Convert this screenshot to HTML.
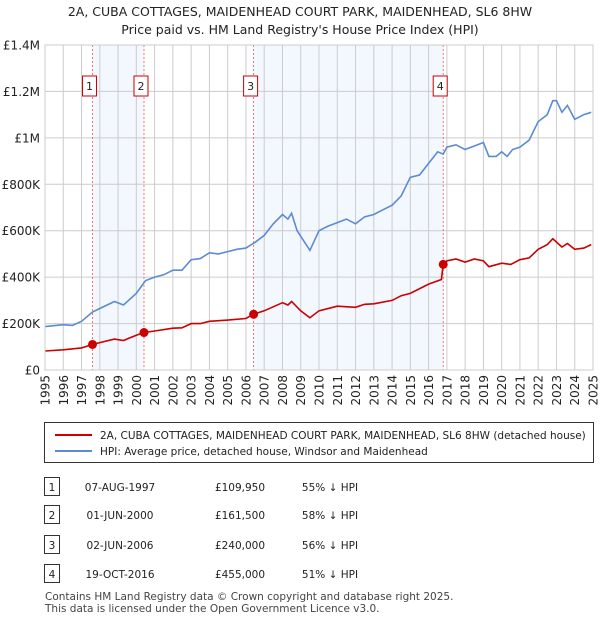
<!DOCTYPE html>
<html><head><meta charset="utf-8"><style>
body{margin:0;background:#fff;font-family:"Liberation Sans","DejaVu Sans",sans-serif;}
svg text{font-family:"DejaVu Sans","Liberation Sans",sans-serif;}
</style></head><body>
<svg id="c" width="600" height="620" xmlns="http://www.w3.org/2000/svg">
<text x="300" y="16" text-anchor="middle" font-size="12.5" fill="#222">2A, CUBA COTTAGES, MAIDENHEAD COURT PARK, MAIDENHEAD, SL6 8HW</text>
<text x="300" y="34" text-anchor="middle" font-size="12.5" fill="#222">Price paid vs. HM Land Registry's House Price Index (HPI)</text>
<g id="plot"></g>
<g>
<rect x="44.5" y="422.5" width="549" height="40" fill="#fff" stroke="#333"/>
<line x1="55" y1="435" x2="92" y2="435" stroke="#cc0000" stroke-width="2"/>
<text x="100" y="439" font-size="10.5" fill="#222">2A, CUBA COTTAGES, MAIDENHEAD COURT PARK, MAIDENHEAD, SL6 8HW (detached house)</text>
<line x1="55" y1="451" x2="92" y2="451" stroke="#5b8bd0" stroke-width="2"/>
<text x="100" y="455" font-size="10.5" fill="#222">HPI: Average price, detached house, Windsor and Maidenhead</text>
</g>
<g id="table"></g>
<text x="45" y="600" font-size="10.5" fill="#444">Contains HM Land Registry data © Crown copyright and database right 2025.</text>
<text x="45" y="612" font-size="10.5" fill="#444">This data is licensed under the Open Government Licence v3.0.</text>
</svg>
<script>
const hpiYears=[1995,1996,1996.5,1997,1997.6,1998,1998.8,1999.3,2000,2000.5,2001,2001.5,2002,2002.5,2003,2003.5,2004,2004.5,2005,2005.5,2006,2006.5,2007,2007.5,2008,2008.3,2008.5,2008.8,2009.5,2010,2010.5,2011,2011.5,2012,2012.5,2013,2013.5,2014,2014.5,2015,2015.5,2016,2016.5,2016.8,2017,2017.5,2018,2018.5,2019,2019.3,2019.7,2020,2020.3,2020.6,2021,2021.5,2022,2022.5,2022.8,2023,2023.3,2023.6,2024,2024.5,2024.9];
const hpiValues=[187,195,192,210,250,265,295,280,330,385,400,410,430,430,475,480,505,500,510,520,525,550,580,630,670,650,675,600,515,600,620,635,650,630,660,670,690,710,750,830,840,890,940,930,960,970,950,965,980,920,920,940,920,950,960,990,1070,1100,1160,1160,1110,1140,1080,1100,1110];
const ppYears=[1995,1996,1997,1997.6,1998,1998.8,1999.3,2000,2000.4,2001,2002,2002.5,2003,2003.5,2004,2005,2006,2006.4,2007,2008,2008.3,2008.5,2009,2009.5,2010,2011,2012,2012.5,2013,2014,2014.5,2015,2016,2016.7,2016.8,2017,2017.5,2018,2018.5,2019,2019.3,2020,2020.5,2021,2021.5,2022,2022.5,2022.8,2023.3,2023.6,2024,2024.5,2024.9];
const ppValues=[82,87,95,110,118,133,127,150,161,168,180,182,200,200,210,215,222,240,255,290,280,295,255,225,255,275,270,283,285,300,320,330,370,390,455,470,478,465,478,470,445,460,455,475,483,520,540,565,530,545,520,525,540];
const saleLabels=["1","2","3","4"];
const saleYears=[1997.6,2000.42,2006.42,2016.8];
const saleValues=[109.95,161.5,240,455];
const saleDates=["07-AUG-1997","01-JUN-2000","02-JUN-2006","19-OCT-2016"];
const salePrices=["£109,950","£161,500","£240,000","£455,000"];
const saleHpi=["55% ↓ HPI","58% ↓ HPI","56% ↓ HPI","51% ↓ HPI"];
const yTicks=[0,200,400,600,800,1000,1200,1400];
const yTickLabels=["£0","£200K","£400K","£600K","£800K","£1M","£1.2M","£1.4M"];
const xTicks=[1995,1996,1997,1998,1999,2000,2001,2002,2003,2004,2005,2006,2007,2008,2009,2010,2011,2012,2013,2014,2015,2016,2017,2018,2019,2020,2021,2022,2023,2024,2025];

const X0=45,X1=593,Y0=370,Y1=45;
const xs=y=>X0+(y-1995)/30*(X1-X0);
const ys=v=>Y0-v/1400*(Y0-Y1);
const NS="http://www.w3.org/2000/svg";
const plot=document.getElementById('plot');
function mk(tag,attrs,parent){const e=document.createElementNS(NS,tag);for(const k in attrs)e.setAttribute(k,attrs[k]);(parent||plot).appendChild(e);return e;}
[[0,1],[2,3]].forEach(p=>{const r=mk('rect',{x:xs(saleYears[p[0]]),y:Y1,width:xs(saleYears[p[1]])-xs(saleYears[p[0]]),height:Y0-Y1,fill:'#eef3fd',opacity:0.7});

});
yTicks.forEach((t,i)=>{const l=mk('line',{x1:X0,x2:X1,y1:ys(t),y2:ys(t),stroke:'#ccc'});


const tx=mk('text',{x:X0-5,y:ys(t)+4.5,'text-anchor':'end','font-size':12,fill:'#222'});tx.textContent=yTickLabels[i];

});
xTicks.forEach(t=>{const l=mk('line',{x1:xs(t),x2:xs(t),y1:Y1,y2:Y0,stroke:'#ccc'});


const tx=mk('text',{transform:`translate(${xs(t)+4.5},${Y0+5}) rotate(-90)`,'text-anchor':'end','font-size':12,fill:'#222'});tx.textContent=t;

});
saleYears.forEach((y,i)=>{const l=mk('line',{x1:xs(y),x2:xs(y),y1:Y1,y2:Y0,stroke:'#e55','stroke-dasharray':'2,2','stroke-width':0.8});


const bx=xs(y)-3;
const r=mk('rect',{x:bx-7,y:76,width:14,height:20,fill:'#fff',stroke:'#cc0000'});


const tx=mk('text',{x:bx,y:90,'text-anchor':'middle','font-size':11,fill:'#222'});tx.textContent=saleLabels[i];

});
function path(xa,va,color,name){const d=xa.map((x,i)=>(i?'L':'M')+xs(x).toFixed(1)+','+ys(va[i]).toFixed(1)).join('');
const p=mk('path',{d:d,fill:'none',stroke:color,'stroke-width':1.6});

}
path(hpiYears,hpiValues,'#5b8bd0','hpi-line');
path(ppYears,ppValues,'#cc0000','price-paid-line');
saleYears.forEach((y,i)=>{const c=mk('circle',{cx:xs(y),cy:ys(saleValues[i]),r:4.5,fill:'#cc0000'});

});
mk('rect',{x:X0,y:Y1,width:X1-X0,height:Y0-Y1,fill:'none',stroke:'#ccc'});
const tb=document.getElementById('table');
const rowY=[487,515,545,574];
rowY.forEach((ry,i)=>{const r=mk('rect',{x:44.5,y:ry-9.5,width:15,height:18,fill:'#fff',stroke:'#333'},tb);


const cells=[[52,saleLabels[i],'middle'],[120,saleDates[i],'middle'],[240,salePrices[i],'middle'],[330,saleHpi[i],'middle']];
cells.forEach(c=>{const t=mk('text',{x:c[0],y:ry+4,'text-anchor':c[2],'font-size':10.5,fill:'#222'},tb);t.textContent=c[1];

});});
</script>
</body></html>
